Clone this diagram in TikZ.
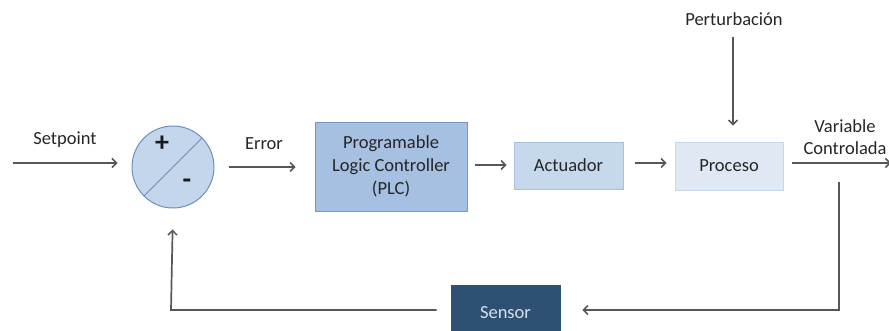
\documentclass[tikz,border=0pt]{standalone}
\usepackage{fontspec}
\setmainfont{Carlito}
\usetikzlibrary{arrows.meta,shadows}

\definecolor{linegray}{HTML}{575757}
\definecolor{plcfill}{HTML}{A5C0E0}
\definecolor{plcdraw}{HTML}{7896BE}
\definecolor{actfill}{HTML}{C6D8EC}
\definecolor{actdraw}{HTML}{A8C0DC}
\definecolor{procfill}{HTML}{DFE8F3}
\definecolor{procdraw}{HTML}{C8D6E9}
\definecolor{sumfill}{HTML}{C4D6EB}
\definecolor{sumdraw}{HTML}{6A90C0}
\definecolor{sensfill}{HTML}{2E5072}
\definecolor{senstext}{HTML}{D8E0EA}

\tikzset{
  arr/.style={draw=linegray, line width=1.7pt,
    -{Straight Barb[length=4.5pt,width=9pt,line width=1.5pt]}},
  lbl/.style={font=\fontsize{18.5}{22}\selectfont, text=black!85, inner sep=0pt, align=center},
  sign/.style={font=\fontsize{28}{28}\selectfont\bfseries, text=black!90, inner sep=0pt},
  blockbox/.style={rectangle, inner sep=0pt, line width=0.8pt, align=center,
    font=\fontsize{18.5}{23}\selectfont, text=black!85,
    drop shadow={shadow xshift=1pt, shadow yshift=-1.5pt, opacity=0.25}},
}

\begin{document}
\begin{tikzpicture}[x=1pt,y=-1pt]
  \useasboundingbox (0,0) rectangle (889,331);
  \clip (0,0) rectangle (889,331);

  % summing junction
  \node[circle, minimum size=82pt, inner sep=0pt, fill=sumfill, draw=sumdraw, line width=1pt] (sum) at (173,167) {};
  \draw[sumdraw, line width=1pt] (sum.225) -- (sum.45);
  \node[sign] (plus) at (162,144) {+};
  \node[sign] (minus) at (187,184) {-};

  % blocks
  \node[blockbox, fill=plcfill, draw=plcdraw, minimum width=152pt, minimum height=89pt] (plc) at (391,166.5)
    {Programable\\Logic Controller\\(PLC)};
  \node[blockbox, fill=actfill, draw=actdraw, minimum width=109pt, minimum height=47pt] (act) at (568.5,165.5) {Actuador};
  \node[blockbox, fill=procfill, draw=procdraw, minimum width=108pt, minimum height=48pt] (proc) at (729,166) {Proceso};
  \node[blockbox, fill=sensfill, draw=sensfill, minimum width=109pt, minimum height=56pt,
        anchor=north] (sens) at (505.5,285) {};
  \node[lbl, text=senstext] (senslbl) at (505.5,313) {Sensor};

  % labels
  \node[lbl] (setpoint) at (65,140) {Setpoint};
  \node[lbl] (error) at (264,144) {Error};
  \node[lbl] (pert) at (734,19) {Perturbación};
  \node[lbl] (varc) at (845,137) {Variable\\Controlada};

  % free ends of connectors
  \coordinate (spin) at (13,163);
  \coordinate (out) at (891,163);
  \coordinate (fbtop) at (839,182);
  \coordinate (fbcorner) at (839,310);
  \coordinate (retcorner) at (171,310);

  % forward path
  \draw[arr, shorten >=14pt] (spin) -- (sum.west |- spin);
  \draw[arr, shorten <=14pt, shorten >=19pt] (sum.east) -- (plc.west |- sum.east);
  \draw[arr, shorten <=8pt, shorten >=7pt] (plc.east |- 0,165) -- (act.west |- 0,165);
  \draw[arr, shorten <=12pt, shorten >=8pt] (act.east |- 0,163) -- (proc.west |- 0,163);
  \draw[arr, shorten <=9pt] (proc.east |- out) -- (out);
  \draw[arr, shorten <=11pt, shorten >=16pt] (pert.south -| 733,0) -- (proc.north -| 733,0);

  % feedback path
  \draw[arr, shorten >=22pt] (fbtop) -- (fbcorner) -- (sens.east |- fbcorner);
  \draw[arr, shorten <=14pt, shorten >=21pt] (sens.west |- retcorner) -- (retcorner) -- (sum.south);
\end{tikzpicture}
\end{document}
